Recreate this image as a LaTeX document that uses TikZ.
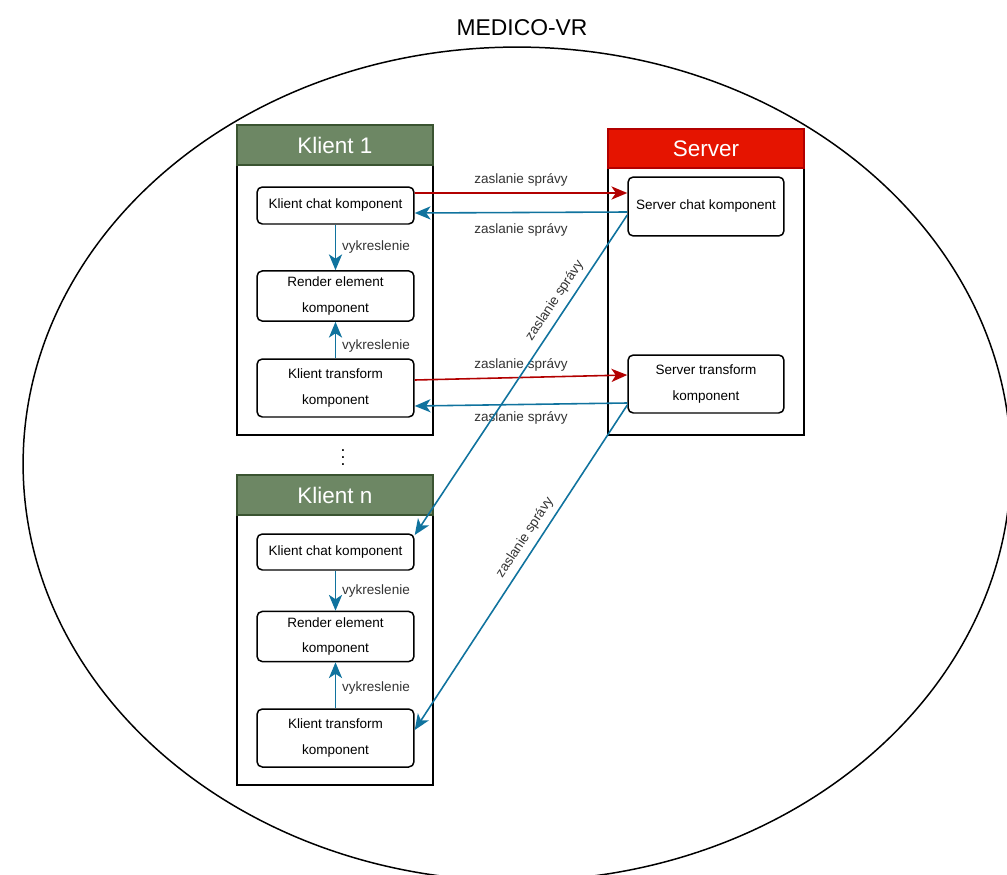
\documentclass[tikz,border=0pt]{standalone}
\usepackage{fontspec}
\setmainfont{Liberation Sans}
\usetikzlibrary{arrows.meta}
\definecolor{klientgreen}{HTML}{6D8764}
\definecolor{klientgreenline}{HTML}{3A5431}
\definecolor{serverred}{HTML}{E51400}
\definecolor{serverredline}{HTML}{B20000}
\definecolor{msgred}{HTML}{B20000}
\definecolor{msgblue}{HTML}{10739E}

\begin{document}
\begin{tikzpicture}[x=0.02cm, y=-0.02cm,
	frame_box/.style={draw, line width=0.7pt, minimum width=3.92cm, inner sep=0pt},
	head_box/.style={draw, line width=0.7pt, minimum width=3.92cm, minimum height=0.8cm, text=white, font=\fontsize{12.8}{14}\selectfont},
	comp_node/.style={draw, rounded corners=3pt, line width=0.85pt, minimum width=3.14cm, align=center, font=\fontsize{7.7}{14.7}\selectfont},
	msg_arrow/.style={line width=0.9pt, -{Stealth[length=9pt,width=7.5pt,inset=2.5pt]}},
	msg_label/.style={font=\fontsize{7.7}{9}\selectfont, text=black!80}]

	\useasboundingbox (0,0) rectangle (1007,875);
	\begin{scope}
		\clip (0,0) rectangle (1007,875);
		\draw[line width=0.85pt] (517,464) ellipse [x radius=9.88cm, y radius=8.34cm];
	\end{scope}
	\node[font=\fontsize{13}{15}\selectfont] (title) at (522,28) {MEDICO-VR};

	\node[frame_box, minimum height=6.2cm] (k1_frame) at (335,280) {};
	\node[head_box, fill=klientgreen, draw=klientgreenline] (k1_head) at (335,145) {Klient 1};
	\node[comp_node, minimum height=0.74cm] (k1_chat) at (335.5,205.5) {Klient chat komponent};
	\node[comp_node, minimum height=0.96cm] (k1_render) at (335.5,296) {Render element\\komponent};
	\node[comp_node, minimum height=1.16cm] (k1_trans) at (335.5,388) {Klient transform\\komponent};

	\node (k_dots) at (343,452) {$\vdots$};

	\node[frame_box, minimum height=6.2cm] (kn_frame) at (335,630) {};
	\node[head_box, fill=klientgreen, draw=klientgreenline] (kn_head) at (335,495) {Klient n};
	\node[comp_node, minimum height=0.72cm] (kn_chat) at (335.5,552) {Klient chat komponent};
	\node[comp_node, minimum height=0.94cm] (kn_render) at (335.5,636.5) {Render element\\komponent};
	\node[comp_node, minimum height=1.16cm] (kn_trans) at (335.5,738) {Klient transform\\komponent};

	\node[frame_box, minimum height=6.12cm] (s_frame) at (706,282) {};
	\node[head_box, minimum height=0.78cm, fill=serverred, draw=serverredline] (s_head) at (706,148.5) {Server};
	\node[comp_node, minimum width=3.12cm, minimum height=1.18cm] (s_chat) at (706,206.5) {Server chat komponent};
	\node[comp_node, minimum width=3.12cm, minimum height=1.16cm] (s_trans) at (706,384) {Server transform\\komponent};

	\draw[msg_arrow, msgblue] (k1_chat) -- node[msg_label, right] {vykreslenie} (k1_render);
	\draw[msg_arrow, msgblue] (k1_trans) -- node[msg_label, right, pos=0.33] {vykreslenie} (k1_render);
	\draw[msg_arrow, msgblue] (kn_chat) -- node[msg_label, right] {vykreslenie} (kn_render);
	\draw[msg_arrow, msgblue] (kn_trans) -- node[msg_label, right, pos=0.45] {vykreslenie} (kn_render);

	\draw[msg_arrow, msgred] ([yshift=0.25cm]k1_chat.east) -- node[msg_label, above] {zaslanie správy} ([yshift=0.27cm]s_chat.west);
	\draw[msg_arrow, msgblue] ([yshift=-0.11cm]s_chat.west) -- node[msg_label, below=2.5pt] {zaslanie správy} ([yshift=-0.15cm]k1_chat.east);
	\draw[msg_arrow, msgred] ([yshift=0.16cm]k1_trans.east) -- node[msg_label, above] {zaslanie správy} ([yshift=0.18cm]s_trans.west);
	\draw[msg_arrow, msgblue] ([yshift=-0.38cm]s_trans.west) -- node[msg_label, below] {zaslanie správy} ([yshift=-0.36cm]k1_trans.east);

	\draw[msg_arrow, msgblue] ([yshift=-0.17cm]s_chat.west) -- node[msg_label, pos=0.29, sloped, above] {zaslanie správy} ([yshift=0.34cm]kn_chat.east);
	\draw[msg_arrow, msgblue] ([yshift=-0.42cm]s_trans.west) -- node[msg_label, pos=0.43, sloped, above] {zaslanie správy} ([yshift=0.16cm]kn_trans.east);
\end{tikzpicture}
\end{document}
